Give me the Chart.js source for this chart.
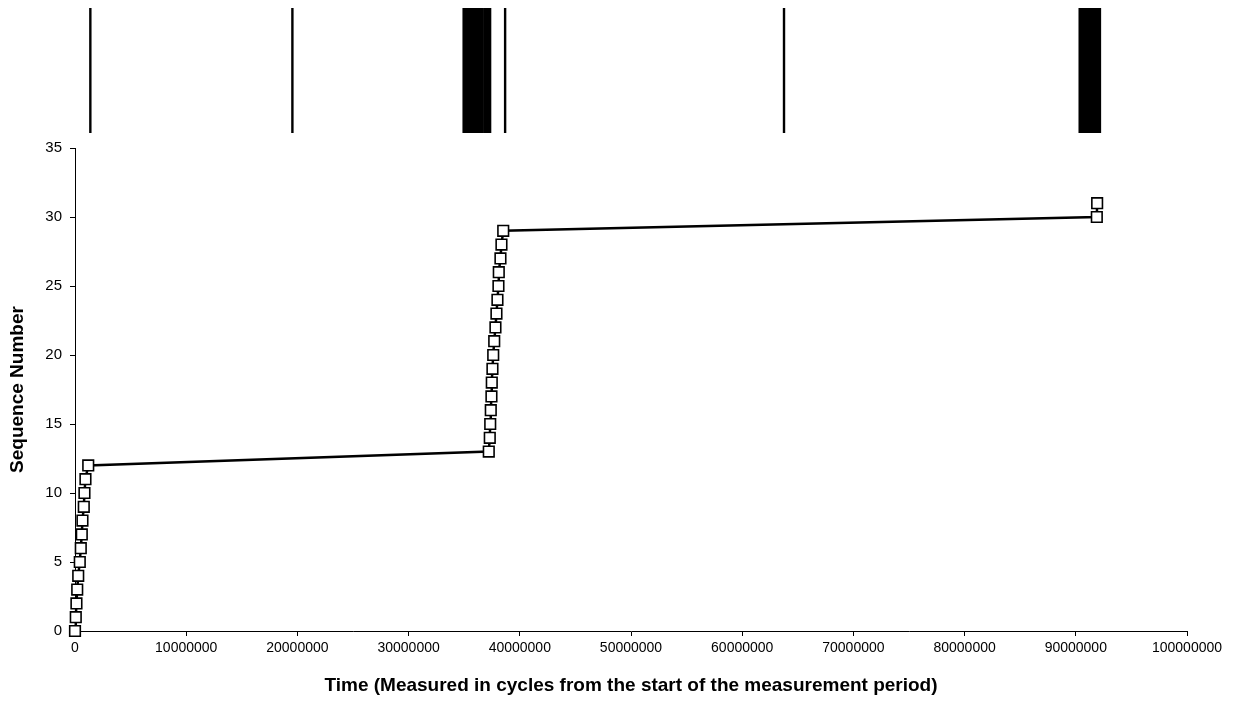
<!DOCTYPE html>
<html>
<head>
<meta charset="utf-8">
<script src="https://cdn.jsdelivr.net/npm/chart.js@4"></script>
<style>
  html, body { margin: 0; padding: 0; background: #fff; }
  #wrap { position: relative; width: 1240px; height: 702px; }
  #wrap canvas { position: absolute; left: 0; top: 0; }
</style>
</head>
<body>
<div id="wrap">
  <canvas id="mainChart" width="1240" height="702"></canvas>
  <canvas id="rugChart" width="1240" height="140"></canvas>
</div>
<script>
// sequence number vs time (cycles)
const seqNumbers = [0, 1, 2, 3, 4, 5, 6, 7, 8, 9, 10, 11, 12,
  13, 14, 15, 16, 17, 18, 19, 20, 21, 22, 23, 24, 25, 26, 27, 28, 29,
  30, 31];
const seqTimes = [0, 70000, 130000, 200000, 290000, 430000, 520000, 610000,
  670000, 790000, 850000, 940000, 1190000,
  37210000, 37300000, 37340000, 37390000, 37450000, 37480000, 37540000,
  37610000, 37700000, 37810000, 37900000, 37990000, 38080000, 38110000,
  38260000, 38350000, 38510000,
  91890000, 91920000];

// event times shown as the strip on top
const rugTimes = [1380000, 19550000,
  34950000, 35120000, 35290000, 35500000, 35680000, 35850000, 36060000,
  36240000, 36420000, 36600000, 36820000, 37000000, 37180000, 37330000,
  38680000, 63760000,
  90350000, 90520000, 90700000, 90900000, 91080000, 91260000, 91470000,
  91640000, 91820000, 92000000, 92170000];

const xTicks = { min: 0, max: 100000000, step: 10000000 };
const yTicks = { min: 0, max: 35, step: 5 };

const FONT = "'Liberation Sans', Arial, sans-serif";

const mainChart = new Chart(document.getElementById("mainChart"), {
  type: "line",
  data: {
    datasets: [
      {
        data: seqTimes.map((t, i) => ({ x: t, y: seqNumbers[i] })),
        borderColor: "#000",
        borderWidth: 2.5,
        pointStyle: "rect",
        pointRadius: 7.5,
        pointBorderWidth: 1.6,
        pointBorderColor: "#000",
        pointBackgroundColor: "#fff",
        tension: 0,
        clip: false,
      },
    ],
  },
  options: {
    responsive: false,
    animation: false,
    layout: { padding: { top: 148, right: 53, left: 0, bottom: 0 } },
    plugins: { legend: { display: false }, tooltip: { enabled: false } },
    scales: {
      x: {
        type: "linear",
        min: xTicks.min,
        max: xTicks.max,
        afterFit: (scale) => { scale.height = 71; },
        border: { color: "#000", width: 1 },
        grid: { drawOnChartArea: false, tickLength: 5, color: "#000" },
        ticks: {
          stepSize: xTicks.step,
          autoSkip: false,
          maxRotation: 0,
          padding: 4,
          color: "#000",
          font: { family: FONT, size: 14 },
          callback: (v) => String(v),
        },
        title: {
          display: true,
          text: "Time (Measured in cycles from the start of the measurement period)",
          color: "#000",
          font: { family: FONT, size: 19, weight: "bold" },
          padding: { top: 0, bottom: 5 },
        },
      },
      y: {
        min: yTicks.min,
        max: yTicks.max,
        afterFit: (scale) => { scale.width = 75; },
        border: { color: "#000", width: 1 },
        grid: { drawOnChartArea: false, tickLength: 5, color: "#000" },
        ticks: {
          stepSize: yTicks.step,
          padding: 8,
          color: "#000",
          font: { family: FONT, size: 15 },
        },
        title: {
          display: true,
          text: "Sequence Number",
          color: "#000",
          font: { family: FONT, size: 19, weight: "bold" },
          padding: { top: 6, bottom: 0 },
        },
      },
    },
  },
});

// strip of events, aligned to the main x scale
const rugData = [];
rugTimes.forEach((t) => {
  rugData.push({ x: t, y: 0 }, { x: t, y: 1 }, { x: t, y: null });
});

const area = mainChart.chartArea;
new Chart(document.getElementById("rugChart"), {
  type: "line",
  data: {
    datasets: [
      {
        data: rugData,
        borderColor: "#000",
        borderWidth: 2.4,
        pointRadius: 0,
        spanGaps: false,
      },
    ],
  },
  options: {
    responsive: false,
    animation: false,
    layout: {
      padding: { top: 8, bottom: 7, left: area.left, right: 1240 - area.right },
    },
    plugins: { legend: { display: false }, tooltip: { enabled: false } },
    scales: {
      x: { type: "linear", min: xTicks.min, max: xTicks.max, display: false },
      y: { min: 0, max: 1, display: false },
    },
  },
});
</script>
</body>
</html>
